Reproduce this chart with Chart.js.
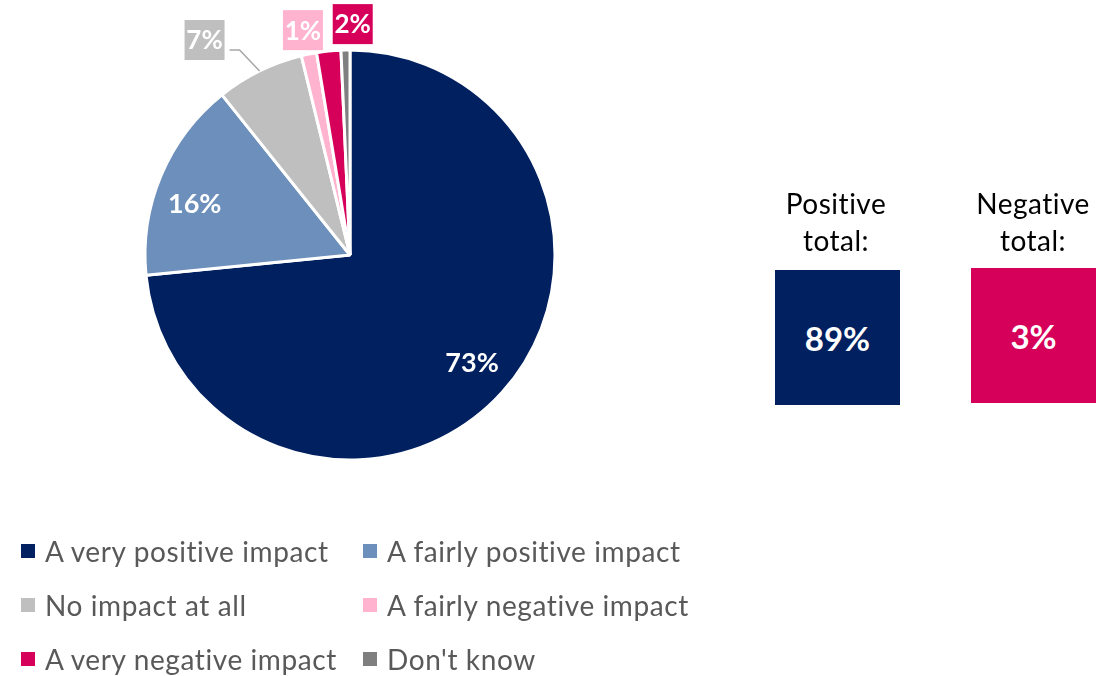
<!DOCTYPE html>
<html>
<head>
<meta charset="utf-8">
<script src="https://cdn.jsdelivr.net/npm/chart.js@4"></script>
<style>
  body { margin: 0; background: #fff; font-family: Lato, 'Noto Sans', sans-serif; }
  #wrap { position: relative; width: 1114px; height: 676px; overflow: hidden; }
  #myChart { position: absolute; left: 0; top: 0; }
  .total-title { position: absolute; width: 160px; text-align: center; font-size: 28px; line-height: 37px; color: #000; letter-spacing: 0.5px; }
  .total-box { position: absolute; width: 125px; height: 135px; color: #fff; font-weight: bold; font-size: 33px;
    display: flex; align-items: center; justify-content: center; }
  #legend { position: absolute; left: 21px; top: 532px; display: grid; grid-template-columns: 342px 360px; row-gap: 16px; }
  .leg { display: flex; align-items: center; font-size: 28px; color: #595959; height: 38px; white-space: nowrap; letter-spacing: 0.6px; }
  .leg span.sw { width: 14px; height: 14px; margin-right: 10px; display: inline-block; }
</style>
</head>
<body>
<div id="wrap">
  <canvas id="myChart" width="1114" height="676"></canvas>
  <div class="total-title" style="left:756px; top:185px;">Positive<br>total:</div>
  <div class="total-box" id="posBox" style="left:775px; top:270px; background:#002060;"></div>
  <div class="total-title" style="left:953px; top:185px;">Negative<br>total:</div>
  <div class="total-box" id="negBox" style="left:971px; top:268px; background:#D6005A;"></div>
  <div id="legend"></div>
</div>
<script>
const categories = ['A very positive impact', 'A fairly positive impact', 'No impact at all',
  'A fairly negative impact', 'A very negative impact', "Don't know"];
const values = [73.2, 15.8, 6.9, 1.2, 1.9, 0.7];
const pieLabels = ['73%', '16%', '7%', '1%', '2%', ''];
const colors = ['#002060', '#6D8FBB', '#BFBFBF', '#FFB3CF', '#D6005A', '#7F7F7F'];
const totals = ['89%', '3%'];

document.getElementById('posBox').textContent = totals[0];
document.getElementById('negBox').textContent = totals[1];

// legend in two fixed columns, like the original
const legend = document.getElementById('legend');
categories.forEach((c, i) => {
  const d = document.createElement('div');
  d.className = 'leg';
  d.innerHTML = '<span class="sw" style="background:' + colors[i] + '"></span>' + c;
  legend.appendChild(d);
});

// inside labels for big slices (small nudge), boxed labels with offsets for the small ones
const inside = { 0: { dx: 2, dy: 0 }, 1: { dx: -6, dy: 12 } };
const outside = {
  2: { dx: -55, dy: -31, leader: true },
  3: { dx: -6, dy: -24 },
  4: { dx: 24, dy: -27 }
};

const labelPlugin = {
  id: 'sliceLabels',
  afterDatasetsDraw(chart) {
    const c = chart.ctx;
    const arcs = chart.getDatasetMeta(0).data;
    c.save();
    c.textAlign = 'center';
    c.textBaseline = 'middle';
    arcs.forEach((arc, i) => {
      const txt = pieLabels[i];
      if (!txt) return;
      const mid = (arc.startAngle + arc.endAngle) / 2;
      const ex = arc.x + arc.outerRadius * Math.cos(mid);
      const ey = arc.y + arc.outerRadius * Math.sin(mid);
      if (outside[i]) {
        const o = outside[i];
        const bx = ex + o.dx, by = ey + o.dy;
        if (o.leader) {
          c.strokeStyle = '#A6A6A6';
          c.lineWidth = 1.5;
          c.beginPath();
          c.moveTo(ex, ey);
          c.lineTo(bx + 35, by + 10);
          c.lineTo(bx + 25, by + 10);
          c.stroke();
        }
        c.fillStyle = colors[i];
        c.fillRect(bx - 20, by - 20, 40, 40);
        c.font = 'bold 26px Lato, sans-serif';
        c.fillStyle = '#fff';
        c.fillText(txt, bx, by + 1);
      } else {
        const r = arc.outerRadius * 0.79;
        const n = inside[i] || { dx: 0, dy: 0 };
        c.font = 'bold 27px Lato, sans-serif';
        c.fillStyle = '#fff';
        c.fillText(txt, arc.x + r * Math.cos(mid) + n.dx, arc.y + r * Math.sin(mid) + n.dy);
      }
    });
    c.restore();
  }
};

new Chart(document.getElementById('myChart'), {
  type: 'pie',
  data: {
    labels: categories,
    datasets: [{
      data: values,
      backgroundColor: colors,
      borderColor: '#fff',
      borderWidth: 3
    }]
  },
  options: {
    responsive: false,
    animation: false,
    layout: { padding: { left: 143.5, top: 48.5, right: 557.5, bottom: 214.5 } },
    plugins: {
      legend: { display: false },
      tooltip: { enabled: false }
    }
  },
  plugins: [labelPlugin]
});
</script>
</body>
</html>
